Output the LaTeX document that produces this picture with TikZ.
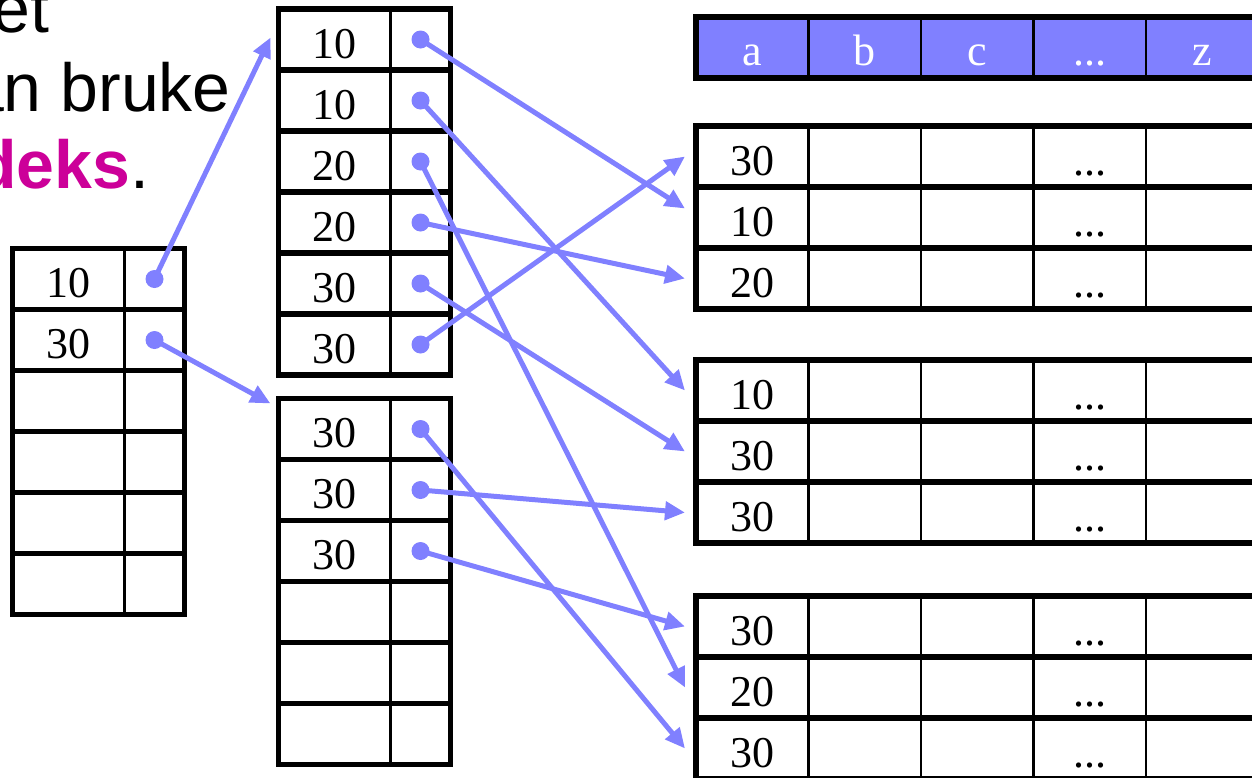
\documentclass[tikz,border=0pt]{standalone}
\usepackage{fontspec}
\setmainfont{Liberation Serif}
\newfontfamily\slidefont{Liberation Sans}
\usepackage{tikz}
\usetikzlibrary{positioning,arrows.meta}
\definecolor{ptrblue}{RGB}{128,128,255}
\definecolor{keymagenta}{RGB}{204,0,153}
\newcommand{\ellip}{...}
\tikzset{
  cellbox/.style={
    draw,
    rectangle,
    line width=2.5pt,
    inner sep=0pt,
    outer sep=0pt,
    minimum height=61pt,
    text height=38pt,
    font=\fontsize{44}{44}\selectfont
  },
  keycell/.style={
    cellbox,
    minimum width=112pt
  },
  ptrcell/.style={
    cellbox,
    minimum width=60pt
  },
  colcell/.style={
    cellbox,
    minimum width=112.5pt
  },
  headcell/.style={
    colcell,
    fill=ptrblue,
    text=white,
    text height=36pt
  },
  rowframe/.style={
    draw,
    line width=5.5pt
  },
  ptrarrow/.style={
    -{Triangle[length=20pt,width=18pt]},
    ptrblue,
    line width=5pt
  },
  slidetext/.style={
    anchor=base east,
    inner sep=0pt,
    font=\slidefont\fontsize{68}{78}\selectfont
  }
}

\begin{document}
\begin{tikzpicture}[x=1pt, y=-1pt]
    \useasboundingbox (0,0) rectangle (1252,777);

    % slide text, cut at the left edge
    \node[slidetext] (txtone) at (49.5,32) {et};
    \node[slidetext] (txttwo) at (231,111) {an bruke};
    \node[slidetext] (txtthree) at (149.5,188) {{\color{keymagenta}\bfseries deks}.};

    % top level of the index
    \foreach \row/\val in {1/10,2/30,3/{},4/{},5/{},6/{}} {
      \node[keycell, anchor=north west] (lk\row) at (12.5,{248.5+61*(\row-1)}) {\val};
      \node[ptrcell, right=0pt of lk\row] (lp\row) {};
      \draw[rowframe] (lk\row.north west) rectangle (lp\row.south east);
    }

    % leaf blocks
    \foreach \row/\val in {1/10,2/10,3/20,4/20,5/30,6/30} {
      \node[keycell, anchor=north west] (ak\row) at (278.5,{9+61*(\row-1)}) {\val};
      \node[ptrcell, right=0pt of ak\row] (ap\row) {};
      \draw[rowframe] (ak\row.north west) rectangle (ap\row.south east);
    }
    \foreach \row/\val in {1/30,2/30,3/30,4/{},5/{},6/{}} {
      \node[keycell, anchor=north west] (bk\row) at (278.5,{398.5+61*(\row-1)}) {\val};
      \node[ptrcell, right=0pt of bk\row] (bp\row) {};
      \draw[rowframe] (bk\row.north west) rectangle (bp\row.south east);
    }

    % table header
    \foreach \col/\txt in {1/a,2/b,3/c,4/\ellip,5/z}
      \node[headcell, anchor=north west] (h\col) at ({696+112.5*(\col-1)},17) {\txt};
    \draw[rowframe] (h1.north west) rectangle (h5.south east);

    % data blocks
    \foreach \row/\top/\val in {1/126/30,2/187/10,3/248/20,4/360/10,5/421/30,6/482/30,7/596/30,8/657/20,9/718/30} {
      \foreach \col/\txt in {1/\val,2/{},3/{},4/\ellip,5/{}}
        \node[colcell, anchor=north west] (r\row c\col) at ({696+112.5*(\col-1)},\top) {\txt};
      \draw[rowframe] (r\row c1.north west) rectangle (r\row c5.south east);
    }

    % pointers
    \fill[ptrblue] (lp1.center) circle (9pt);
    \draw[ptrarrow] (lp1.center) -- ([xshift=-8pt,yshift=2pt]ak1.west);
    \fill[ptrblue] (lp2.center) circle (9pt);
    \draw[ptrarrow] (lp2.center) -- ([xshift=-8pt,yshift=-5pt]bk1.north west);

    \fill[ptrblue] (ap1.center) circle (9pt);
    \draw[ptrarrow] (ap1.center) -- ([xshift=-11pt,yshift=9pt]r2c1.west);
    \foreach \src/\dst in {ap2/r4c1,ap3/r8c1,ap4/r3c1,ap5/r5c1,ap6/r1c1,bp1/r9c1,bp2/r6c1,bp3/r7c1} {
      \fill[ptrblue] (\src.center) circle (9pt);
      \draw[ptrarrow] (\src.center) -- ([xshift=-11pt]\dst.west);
    }

\end{tikzpicture}
\end{document}
